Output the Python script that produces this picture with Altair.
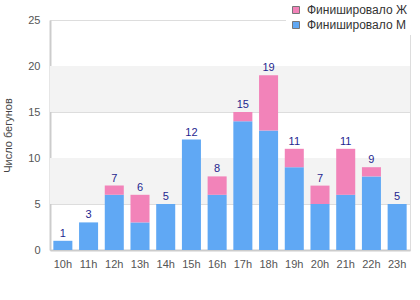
import altair as alt
import pandas as pd

hours = ["10h", "11h", "12h", "13h", "14h", "15h", "16h", "17h", "18h", "19h", "20h", "21h", "22h", "23h"]
men = [1, 3, 6, 3, 5, 12, 6, 14, 13, 9, 5, 6, 8, 5]
women = [0, 0, 1, 3, 0, 0, 2, 1, 6, 2, 2, 5, 1, 0]
series_names = ["Финишировало Ж", "Финишировало М"]
colors = ["#f283b9", "#60a8f4"]
band_lo = [5, 15]
band_hi = [10, 20]

rows = []
for h, m, w in zip(hours, men, women):
    rows.append({"hour": h, "series": series_names[1], "value": m, "order": 0})
    rows.append({"hour": h, "series": series_names[0], "value": w, "order": 1})
df = pd.DataFrame(rows)
totals = pd.DataFrame({"hour": hours, "total": [m + w for m, w in zip(men, women)]})
bands = pd.DataFrame({"lo": band_lo, "hi": band_hi})

FONT = "Liberation Sans"
yscale = alt.Scale(domain=[0, 25])

band_layer = alt.Chart(bands).mark_rect(color="#f3f3f3").encode(
    y=alt.Y("lo:Q", scale=yscale),
    y2="hi:Q",
    x=alt.value(0),
    x2=alt.value(360),
)

bars = alt.Chart(df).mark_bar().encode(
    x=alt.X("hour:N", sort=hours, scale=alt.Scale(paddingInner=0.26, paddingOuter=0.13),
            axis=alt.Axis(title=None, labelAngle=0, ticks=False, labelPadding=8,
                          labelFontSize=11, labelColor="#555", labelFont=FONT,
                          domainColor="#ccc", domainWidth=2)),
    y=alt.Y("value:Q", stack="zero", scale=yscale,
            axis=alt.Axis(title="Число бегунов", values=[0, 5, 10, 15, 20, 25], ticks=False,
                          labelPadding=10, labelFontSize=11, labelColor="#555", labelFont=FONT,
                          gridColor="#ddd", domainColor="#ccc", domainWidth=2,
                          titleFont=FONT, titleFontSize=11, titleFontWeight="normal",
                          titleColor="#444", titlePadding=14)),
    color=alt.Color("series:N", sort=series_names,
                    scale=alt.Scale(domain=series_names, range=colors),
                    legend=alt.Legend(title=None, orient="none", legendX=236, legendY=-20,
                                      symbolType="square", symbolSize=49, symbolStrokeColor="#777",
                                      symbolStrokeWidth=1, labelFont=FONT, labelFontSize=12,
                                      labelColor="#333", fillColor="white", padding=4,
                                      rowPadding=3, labelOffset=5, symbolOpacity=1)),
    order=alt.Order("order:Q"),
)

labels = alt.Chart(totals).mark_text(dy=-7, fontSize=11, font=FONT, color="#1f1f8f").encode(
    x=alt.X("hour:N", sort=hours),
    y=alt.Y("total:Q", scale=yscale),
    text="total:Q",
)

chart = alt.layer(band_layer, bars, labels).properties(
    width=360, height=230,
    autosize=alt.AutoSizeParams(type="none"),
    padding={"left": 50, "top": 20, "right": 10, "bottom": 50},
).configure_view(stroke="#ddd", strokeWidth=2).configure(background="white")

chart.save("out.html", embed_options={"renderer": "svg", "actions": False})
